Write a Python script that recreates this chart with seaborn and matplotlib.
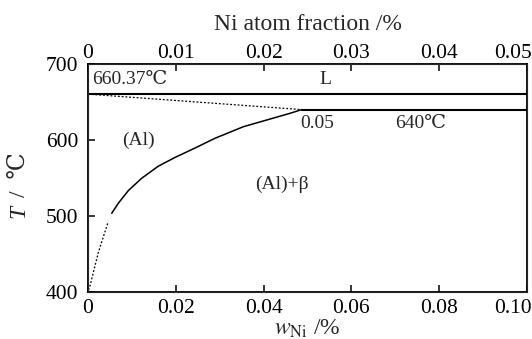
import matplotlib
matplotlib.use("Agg")
import matplotlib.pyplot as plt
import matplotlib.transforms as mtrans
import seaborn as sns
import pandas as pd

# ---- data ----
solvus_w = [0.0054, 0.0069, 0.0092, 0.0122, 0.0160, 0.0198, 0.0244, 0.0289, 0.0354, 0.0460, 0.0487]
solvus_T = [503.6, 516.7, 533.5, 549.5, 565.5, 577.0, 589.5, 602.2, 617.5, 635.1, 640.0]
solvus_ext_w = [0.0001, 0.0005, 0.0023, 0.0046]
solvus_ext_T = [402.6, 409.0, 450.9, 492.5]
liquidus_w = [0.0, 0.0487]
liquidus_T = [660.37, 640]
melt_w = [0.0, 0.10]
melt_T = [660.37, 660.37]
eut_w = [0.0487, 0.10]
eut_T = [640, 640]

bottom_ticks = [0, 0.02, 0.04, 0.06, 0.08, 0.10]
bottom_labels = ["0", "0.02", "0.04", "0.06", "0.08", "0.10"]
top_ticks = [0, 0.01, 0.02, 0.03, 0.04, 0.05]
top_labels = ["0", "0.01", "0.02", "0.03", "0.04", "0.05"]
y_ticks = [400, 500, 600, 700]

sns.set_style("ticks")
plt.rcParams['font.family'] = ['Liberation Serif', 'DejaVu Serif', 'Noto Sans CJK SC']
plt.rcParams['mathtext.fontset'] = 'stix'

fig = plt.figure(figsize=(5.32, 3.39), dpi=100)
ax = fig.add_axes([88/532, 47/339, 439/532, 228/339])

def line(w, T, ls="-", lw=1.1):
    df = pd.DataFrame({"w": w, "T": T})
    sns.lineplot(data=df, x="w", y="T", ax=ax, color="black", linestyle=ls,
                 linewidth=lw, sort=False, estimator=None)

line(solvus_w, solvus_T)
line(solvus_ext_w, solvus_ext_T, ls=(0, (1.5, 1.5)), lw=0.9)
line(liquidus_w, liquidus_T, ls=(0, (1.5, 1.5)), lw=0.9)
line(melt_w, melt_T, lw=1.5)
line(eut_w, eut_T, lw=1.5)

ax.set_xlim(0, 0.10)
ax.set_ylim(400, 700)
ax.set_xticks(bottom_ticks)
ax.set_xticklabels(bottom_labels)
ax.set_yticks(y_ticks)
ax.tick_params(direction="in", length=5, width=1.1, labelsize=15.5, colors="black")
ax.tick_params(axis="x", pad=5)
ax.tick_params(axis="y", pad=7)
for s in ax.spines.values():
    s.set_linewidth(1.3)
    s.set_color("black")

ax.set_xlabel(r"$w_{\mathrm{Ni}}$ /%", fontsize=17, labelpad=0)
ax.set_ylabel("")
ax.text(-0.157, 0.355, "T", transform=ax.transAxes, rotation=90, fontsize=17,
        fontstyle="italic", ha="center", va="center")
ax.text(-0.157, 0.515, "/  ℃", transform=ax.transAxes, rotation=90, fontsize=17,
        ha="center", va="center")

top = ax.twiny()
top.set_xlim(0, 0.05)
top.set_xticks(top_ticks)
top.set_xticklabels(top_labels)
top.tick_params(direction="in", length=5, width=1.1, labelsize=15.5, pad=1, colors="black")
top.set_xlabel("Ni atom fraction /%", fontsize=17, labelpad=10)

# shift the last tick labels left so they fit inside the figure
shift = mtrans.ScaledTranslation(-14/100, 0, fig.dpi_scale_trans)
for lab in [ax.get_xticklabels()[-1], top.get_xticklabels()[-1]]:
    lab.set_transform(lab.get_transform() + shift)

fs = 14
ax.text(0.001, 680, "660.37℃", fontsize=fs, ha="left", va="center")
ax.text(0.054, 680, "L", fontsize=fs, ha="center", va="center")
ax.text(0.0484, 622, "0.05", fontsize=fs, ha="left", va="center")
ax.text(0.070, 622, "640℃", fontsize=fs, ha="left", va="center")
ax.text(0.0077, 600, "(Al)", fontsize=fs, ha="left", va="center")
ax.text(0.038, 541, "(Al)+β", fontsize=fs, ha="left", va="center")

fig.savefig("out.png", dpi=100)
